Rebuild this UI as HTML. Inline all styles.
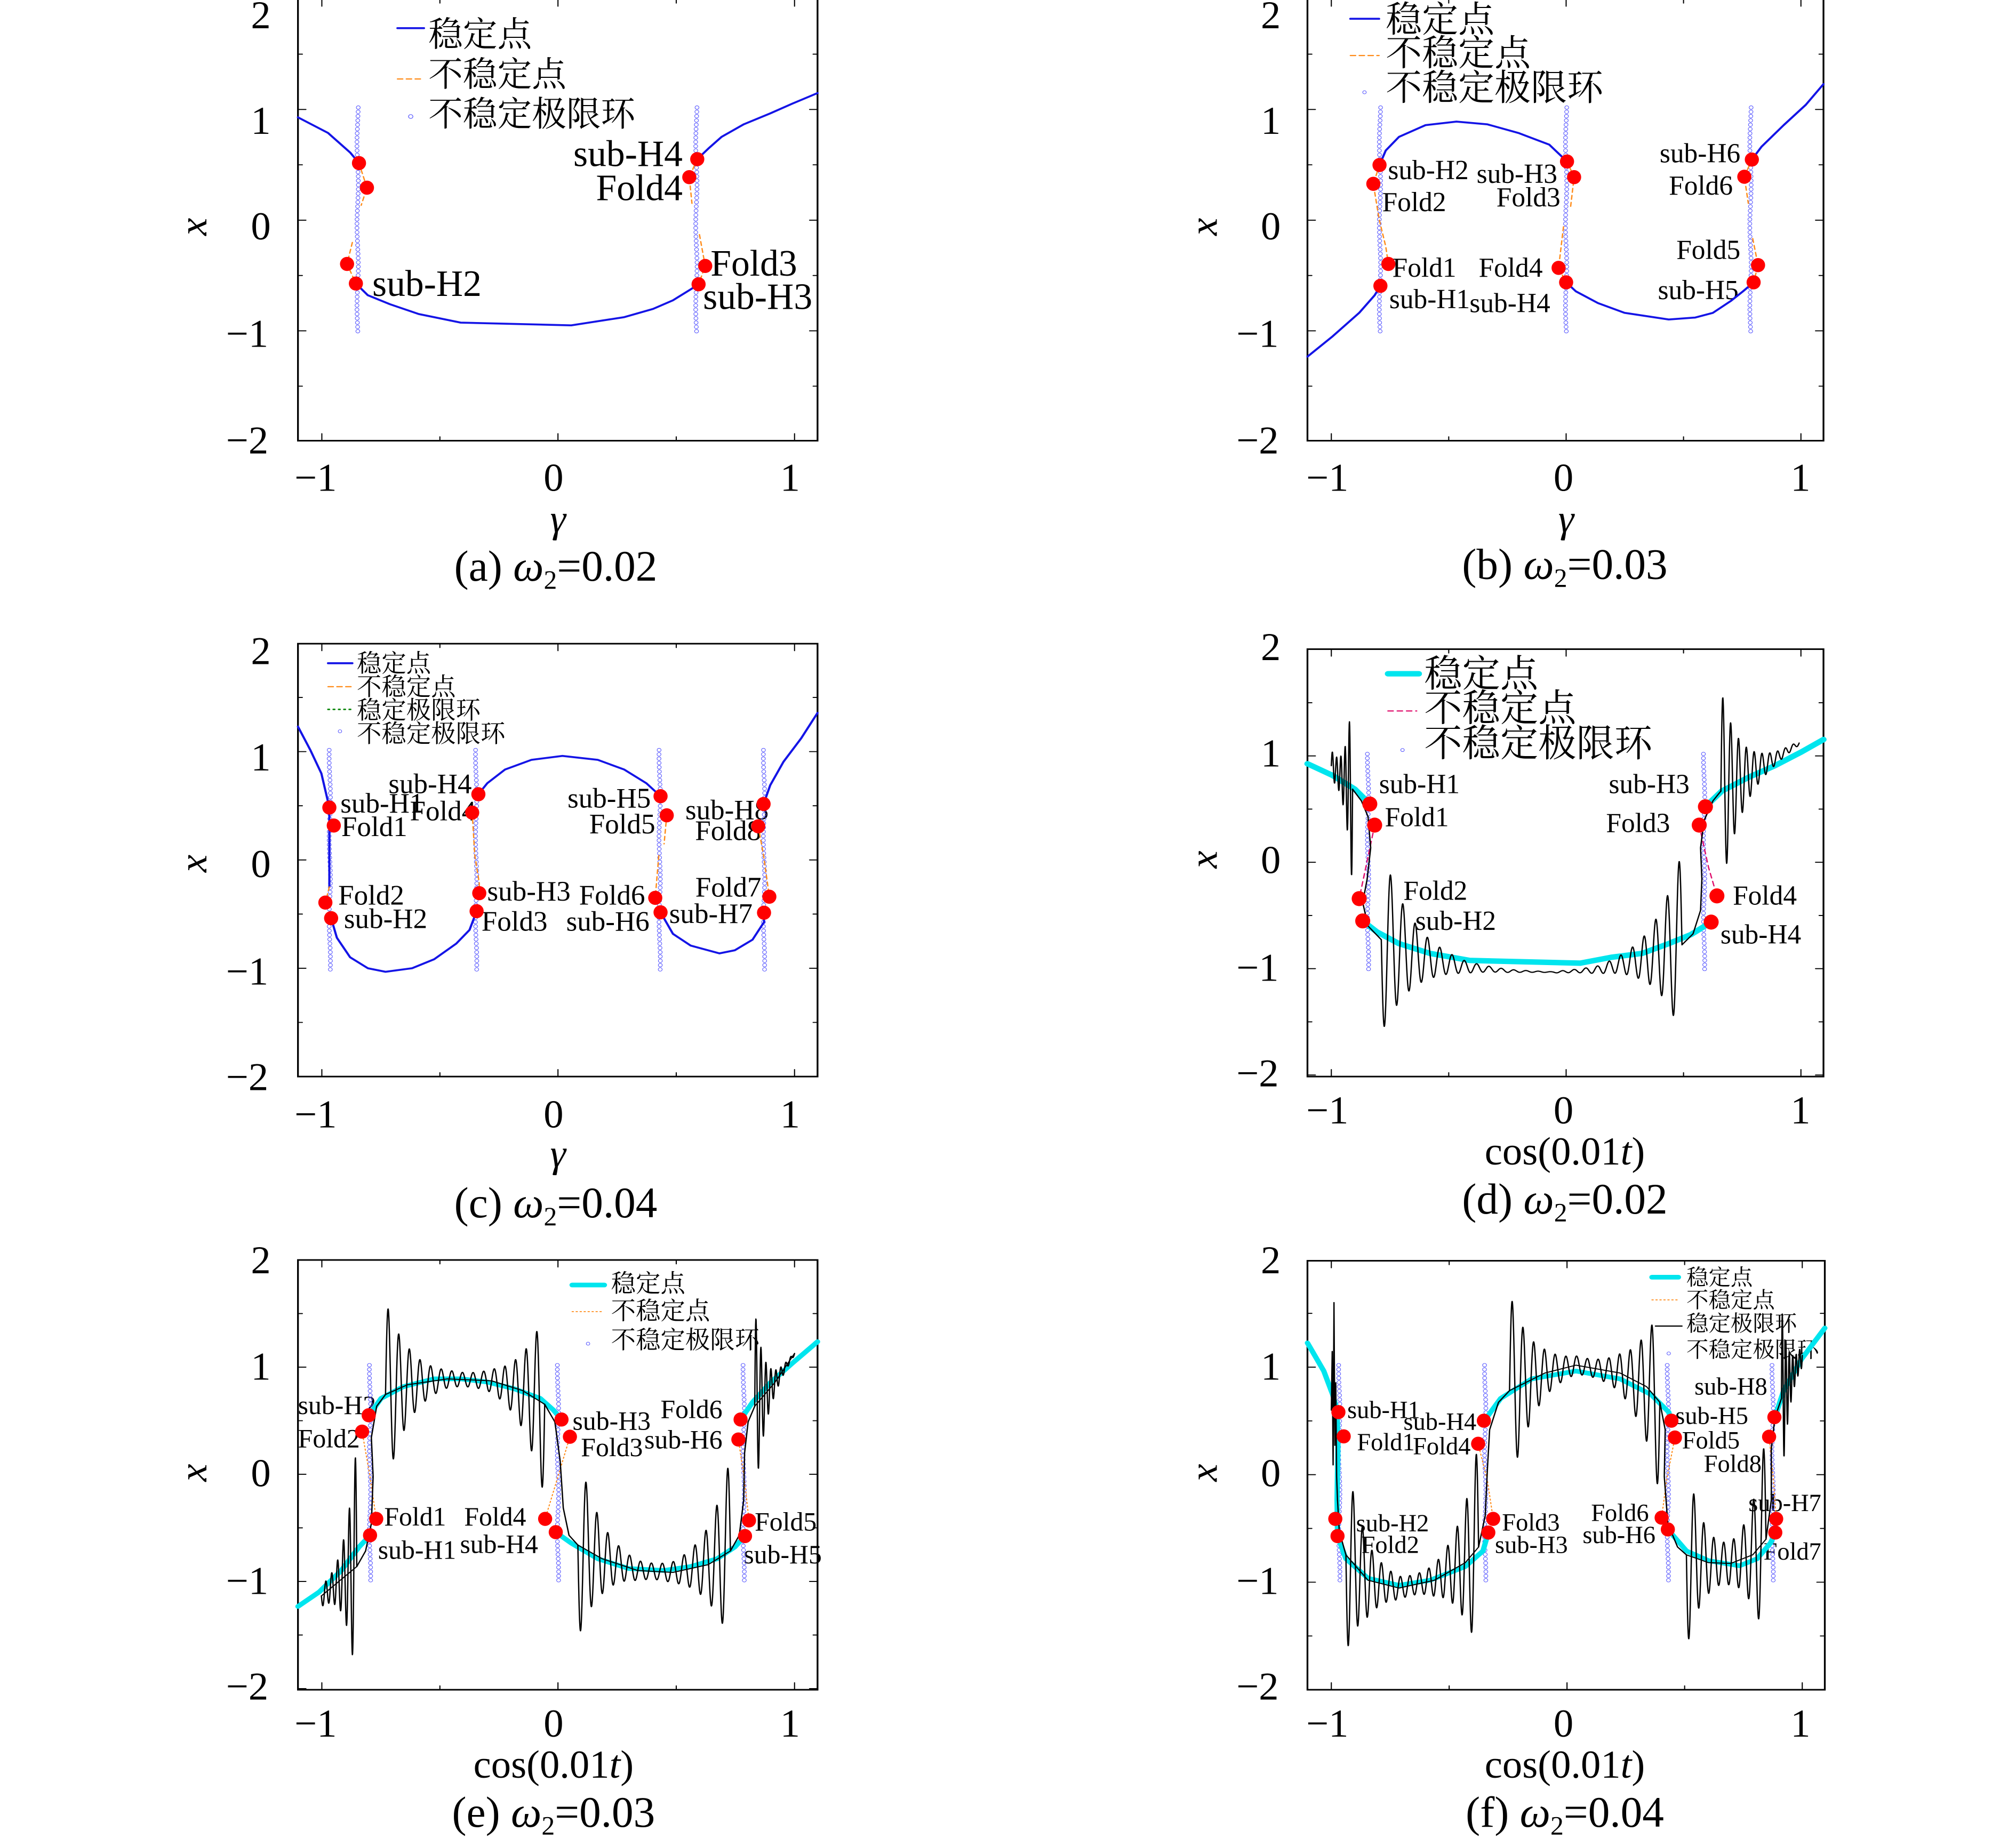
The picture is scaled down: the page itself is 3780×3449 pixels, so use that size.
<!DOCTYPE html>
<html><head><meta charset="utf-8">
<style>
html,body{margin:0;padding:0;background:#fff;}
svg{display:block;}
text{font-family:"Liberation Serif","Noto Serif CJK SC",serif;fill:#000;}
.e{text-anchor:end}.m{text-anchor:middle}
</style></head>
<body>
<svg id="s" xmlns="http://www.w3.org/2000/svg" width="3780" height="3449" viewBox="0 0 3780 3449">
<rect width="3780" height="3449" fill="#fff"/>

<!-- (a) -->
<g id="ga" transform="translate(300,0) scale(0.8291,0.7334)">
<g font-size="90">
<text class="m" transform="translate(228 72) scale(1 1.1305)">2</text>
<text class="m" transform="translate(228 342) scale(1 1.1305)">1</text>
<text class="m" transform="translate(228 612) scale(1 1.1305)">0</text>
<text class="e" transform="translate(245 887) scale(1 1.1305)">−1</text>
<text class="e" transform="translate(245 1160) scale(1 1.1305)">−2</text>
<text class="m" transform="translate(352 1255) scale(1 1.1305)">−1</text>
<text class="m" transform="translate(890 1255) scale(1 1.1305)">0</text>
<text class="m" transform="translate(1425 1255) scale(1 1.1305)">1</text>
<text class="m" font-style="italic" transform="translate(900 1360) scale(1 1.1305)">γ</text>
<text class="m" font-style="italic" transform="translate(105 580) scale(1 1.1305) rotate(-90)">x</text>
</g>
<text class="m" font-size="98" transform="translate(895 1485) scale(1 1.1305)">(a) <tspan font-style="italic">ω</tspan><tspan font-size="60" dy="18">2</tspan><tspan dy="-18">=0.02</tspan></text>
<g font-size="78">
<text transform="translate(607 118) scale(1 1.1305)">稳定点</text>
<text transform="translate(607 220) scale(1 1.1305)">不稳定点</text>
<text transform="translate(607 322) scale(1 1.1305)">不稳定极限环</text>
</g>
<g font-size="84">
<text class="e" transform="translate(1182 425) scale(1 1.1305)">sub-H4</text>
<text class="e" transform="translate(1182 512) scale(1 1.1305)">Fold4</text>
<text transform="translate(1245 705) scale(1 1.1305)">Fold3</text>
<text transform="translate(1228 790) scale(1 1.1305)">sub-H3</text>
<text transform="translate(480 757) scale(1 1.1305)">sub-H2</text>
</g>
</g>

<!-- (b) -->
<g id="gb" transform="translate(2250,0) scale(0.8291,0.7334)">
<g font-size="90">
<text class="m" transform="translate(160 72) scale(1 1.1305)">2</text>
<text class="m" transform="translate(160 342) scale(1 1.1305)">1</text>
<text class="m" transform="translate(160 612) scale(1 1.1305)">0</text>
<text class="e" transform="translate(178 887) scale(1 1.1305)">−1</text>
<text class="e" transform="translate(178 1160) scale(1 1.1305)">−2</text>
<text class="m" transform="translate(288 1255) scale(1 1.1305)">−1</text>
<text class="m" transform="translate(822 1255) scale(1 1.1305)">0</text>
<text class="m" transform="translate(1358 1255) scale(1 1.1305)">1</text>
<text class="m" font-style="italic" transform="translate(828 1360) scale(1 1.1305)">γ</text>
<text class="m" font-style="italic" transform="translate(38 580) scale(1 1.1305) rotate(-90)">x</text>
</g>
<text class="m" font-size="98" transform="translate(825 1480) scale(1 1.1305)">(b) <tspan font-style="italic">ω</tspan><tspan font-size="60" dy="18">2</tspan><tspan dy="-18">=0.03</tspan></text>
<g font-size="82">
<text transform="translate(420 82) scale(1 1.1305)">稳定点</text>
<text transform="translate(420 168) scale(1 1.1305)">不稳定点</text>
<text transform="translate(420 256) scale(1 1.1305)">不稳定极限环</text>
</g>
<g font-size="62">
<text transform="translate(425 458) scale(1 1.1305)">sub-H2</text>
<text transform="translate(412 540) scale(1 1.1305)">Fold2</text>
<text class="e" transform="translate(808 468) scale(1 1.1305)">sub-H3</text>
<text class="e" transform="translate(815 528) scale(1 1.1305)">Fold3</text>
<text transform="translate(435 708) scale(1 1.1305)">Fold1</text>
<text transform="translate(428 788) scale(1 1.1305)">sub-H1</text>
<text class="e" transform="translate(775 708) scale(1 1.1305)">Fold4</text>
<text class="e" transform="translate(792 798) scale(1 1.1305)">sub-H4</text>
<text class="e" transform="translate(1222 415) scale(1 1.1305)">sub-H6</text>
<text class="e" transform="translate(1205 498) scale(1 1.1305)">Fold6</text>
<text class="e" transform="translate(1222 662) scale(1 1.1305)">Fold5</text>
<text class="e" transform="translate(1218 765) scale(1 1.1305)">sub-H5</text>
</g>
</g>

<!-- (c) -->
<g id="gc" transform="translate(300,1150) scale(0.8291,0.7334)">
<g font-size="90">
<text class="m" transform="translate(228 130) scale(1 1.1305)">2</text>
<text class="m" transform="translate(228 402) scale(1 1.1305)">1</text>
<text class="m" transform="translate(228 675) scale(1 1.1305)">0</text>
<text class="e" transform="translate(245 950) scale(1 1.1305)">−1</text>
<text class="e" transform="translate(245 1220) scale(1 1.1305)">−2</text>
<text class="m" transform="translate(352 1315) scale(1 1.1305)">−1</text>
<text class="m" transform="translate(890 1315) scale(1 1.1305)">0</text>
<text class="m" transform="translate(1425 1315) scale(1 1.1305)">1</text>
<text class="m" font-style="italic" transform="translate(900 1415) scale(1 1.1305)">γ</text>
<text class="m" font-style="italic" transform="translate(105 640) scale(1 1.1305) rotate(-90)">x</text>
</g>
<text class="m" font-size="98" transform="translate(895 1545) scale(1 1.1305)">(c) <tspan font-style="italic">ω</tspan><tspan font-size="60" dy="18">2</tspan><tspan dy="-18">=0.04</tspan></text>
<g font-size="56">
<text transform="translate(445 150) scale(1 1.1305)">稳定点</text>
<text transform="translate(445 210) scale(1 1.1305)">不稳定点</text>
<text transform="translate(445 270) scale(1 1.1305)">稳定极限环</text>
<text transform="translate(445 330) scale(1 1.1305)">不稳定极限环</text>
</g>
<g font-size="64">
<text transform="translate(408 510) scale(1 1.1305)">sub-H1</text>
<text transform="translate(410 570) scale(1 1.1305)">Fold1</text>
<text transform="translate(403 745) scale(1 1.1305)">Fold2</text>
<text transform="translate(416 805) scale(1 1.1305)">sub-H2</text>
<text class="e" transform="translate(705 460) scale(1 1.1305)">sub-H4</text>
<text transform="translate(565 530) scale(1 1.1305)">Fold4</text>
<text transform="translate(740 735) scale(1 1.1305)">sub-H3</text>
<text transform="translate(727 812) scale(1 1.1305)">Fold3</text>
<text class="e" transform="translate(1110 497) scale(1 1.1305)">sub-H5</text>
<text class="e" transform="translate(1120 563) scale(1 1.1305)">Fold5</text>
<text transform="translate(1188 527) scale(1 1.1305)">sub-H8</text>
<text transform="translate(1210 580) scale(1 1.1305)">Fold8</text>
<text class="e" transform="translate(1097 745) scale(1 1.1305)">Fold6</text>
<text class="e" transform="translate(1107 812) scale(1 1.1305)">sub-H6</text>
<text class="e" transform="translate(1360 725) scale(1 1.1305)">Fold7</text>
<text class="e" transform="translate(1340 792) scale(1 1.1305)">sub-H7</text>
</g>
</g>

<!-- (d) -->
<g id="gd" transform="translate(2250,1150) scale(0.8291,0.7334)">
<g font-size="90">
<text class="m" transform="translate(160 120) scale(1 1.1305)">2</text>
<text class="m" transform="translate(160 392) scale(1 1.1305)">1</text>
<text class="m" transform="translate(160 665) scale(1 1.1305)">0</text>
<text class="e" transform="translate(178 940) scale(1 1.1305)">−1</text>
<text class="e" transform="translate(178 1210) scale(1 1.1305)">−2</text>
<text class="m" transform="translate(288 1305) scale(1 1.1305)">−1</text>
<text class="m" transform="translate(822 1305) scale(1 1.1305)">0</text>
<text class="m" transform="translate(1358 1305) scale(1 1.1305)">1</text>
<text class="m" transform="translate(825 1410) scale(1 1.1305)">cos(0.01<tspan font-style="italic">t</tspan>)</text>
<text class="m" font-style="italic" transform="translate(38 630) scale(1 1.1305) rotate(-90)">x</text>
</g>
<text class="m" font-size="98" transform="translate(825 1535) scale(1 1.1305)">(d) <tspan font-style="italic">ω</tspan><tspan font-size="60" dy="18">2</tspan><tspan dy="-18">=0.02</tspan></text>
<g font-size="86">
<text transform="translate(507 188) scale(1 1.1305)">稳定点</text>
<text transform="translate(507 276) scale(1 1.1305)">不稳定点</text>
<text transform="translate(507 366) scale(1 1.1305)">不稳定极限环</text>
</g>
<g font-size="62">
<text transform="translate(405 460) scale(1 1.1305)">sub-H1</text>
<text transform="translate(418 545) scale(1 1.1305)">Fold1</text>
<text transform="translate(460 733) scale(1 1.1305)">Fold2</text>
<text transform="translate(487 810) scale(1 1.1305)">sub-H2</text>
<text class="e" transform="translate(1107 460) scale(1 1.1305)">sub-H3</text>
<text class="e" transform="translate(1063 560) scale(1 1.1305)">Fold3</text>
<text transform="translate(1205 745) scale(1 1.1305)">Fold4</text>
<text transform="translate(1177 845) scale(1 1.1305)">sub-H4</text>
</g>
</g>

<!-- (e) -->
<g id="ge" transform="translate(300,2300) scale(0.8291,0.7334)">
<g font-size="90">
<text class="m" transform="translate(228 120) scale(1 1.1305)">2</text>
<text class="m" transform="translate(228 392) scale(1 1.1305)">1</text>
<text class="m" transform="translate(228 665) scale(1 1.1305)">0</text>
<text class="e" transform="translate(245 940) scale(1 1.1305)">−1</text>
<text class="e" transform="translate(245 1210) scale(1 1.1305)">−2</text>
<text class="m" transform="translate(352 1305) scale(1 1.1305)">−1</text>
<text class="m" transform="translate(890 1305) scale(1 1.1305)">0</text>
<text class="m" transform="translate(1425 1305) scale(1 1.1305)">1</text>
<text class="m" transform="translate(890 1410) scale(1 1.1305)">cos(0.01<tspan font-style="italic">t</tspan>)</text>
<text class="m" font-style="italic" transform="translate(105 630) scale(1 1.1305) rotate(-90)">x</text>
</g>
<text class="m" font-size="98" transform="translate(890 1535) scale(1 1.1305)">(e) <tspan font-style="italic">ω</tspan><tspan font-size="60" dy="18">2</tspan><tspan dy="-18">=0.03</tspan></text>
<g font-size="56">
<text transform="translate(1020 168) scale(1 1.1305)">稳定点</text>
<text transform="translate(1020 238) scale(1 1.1305)">不稳定点</text>
<text transform="translate(1020 312) scale(1 1.1305)">不稳定极限环</text>
</g>
<g font-size="60">
<text transform="translate(312 480) scale(1 1.1305)">sub-H2</text>
<text transform="translate(312 565) scale(1 1.1305)">Fold2</text>
<text transform="translate(507 765) scale(1 1.1305)">Fold1</text>
<text transform="translate(493 850) scale(1 1.1305)">sub-H1</text>
<text class="e" transform="translate(828 765) scale(1 1.1305)">Fold4</text>
<text class="e" transform="translate(855 835) scale(1 1.1305)">sub-H4</text>
<text transform="translate(933 520) scale(1 1.1305)">sub-H3</text>
<text transform="translate(952 588) scale(1 1.1305)">Fold3</text>
<text class="e" transform="translate(1272 490) scale(1 1.1305)">Fold6</text>
<text class="e" transform="translate(1272 568) scale(1 1.1305)">sub-H6</text>
<text transform="translate(1345 778) scale(1 1.1305)">Fold5</text>
<text transform="translate(1320 862) scale(1 1.1305)">sub-H5</text>
</g>
</g>

<!-- (f) -->
<g id="gf" transform="translate(2250,2300) scale(0.8291,0.7334)">
<g font-size="90">
<text class="m" transform="translate(160 120) scale(1 1.1305)">2</text>
<text class="m" transform="translate(160 392) scale(1 1.1305)">1</text>
<text class="m" transform="translate(160 665) scale(1 1.1305)">0</text>
<text class="e" transform="translate(178 940) scale(1 1.1305)">−1</text>
<text class="e" transform="translate(178 1210) scale(1 1.1305)">−2</text>
<text class="m" transform="translate(288 1305) scale(1 1.1305)">−1</text>
<text class="m" transform="translate(822 1305) scale(1 1.1305)">0</text>
<text class="m" transform="translate(1358 1305) scale(1 1.1305)">1</text>
<text class="m" transform="translate(825 1410) scale(1 1.1305)">cos(0.01<tspan font-style="italic">t</tspan>)</text>
<text class="m" font-style="italic" transform="translate(38 630) scale(1 1.1305) rotate(-90)">x</text>
</g>
<text class="m" font-size="98" transform="translate(825 1535) scale(1 1.1305)">(f) <tspan font-style="italic">ω</tspan><tspan font-size="60" dy="18">2</tspan><tspan dy="-18">=0.04</tspan></text>
<g font-size="50">
<text transform="translate(1100 150) scale(1 1.1305)">稳定点</text>
<text transform="translate(1100 208) scale(1 1.1305)">不稳定点</text>
<text transform="translate(1100 268) scale(1 1.1305)">稳定极限环</text>
<text transform="translate(1100 335) scale(1 1.1305)">不稳定极限环</text>
</g>
<g font-size="56">
<text transform="translate(333 490) scale(1 1.1305)">sub-H1</text>
<text transform="translate(355 573) scale(1 1.1305)">Fold1</text>
<text class="e" transform="translate(625 520) scale(1 1.1305)">sub-H4</text>
<text class="e" transform="translate(612 583) scale(1 1.1305)">Fold4</text>
<text transform="translate(353 780) scale(1 1.1305)">sub-H2</text>
<text transform="translate(365 835) scale(1 1.1305)">Fold2</text>
<text transform="translate(683 778) scale(1 1.1305)">Fold3</text>
<text transform="translate(667 835) scale(1 1.1305)">sub-H3</text>
<text transform="translate(1075 505) scale(1 1.1305)">sub-H5</text>
<text transform="translate(1090 568) scale(1 1.1305)">Fold5</text>
<text class="e" transform="translate(1283 430) scale(1 1.1305)">sub-H8</text>
<text class="e" transform="translate(1270 628) scale(1 1.1305)">Fold8</text>
<text class="e" transform="translate(1015 753) scale(1 1.1305)">Fold6</text>
<text class="e" transform="translate(1030 810) scale(1 1.1305)">sub-H6</text>
<text class="e" transform="translate(1405 728) scale(1 1.1305)">sub-H7</text>
<text class="e" transform="translate(1405 852) scale(1 1.1305)">Fold7</text>
</g>
</g>
</svg>

<script>
(function(){
var NS="http://www.w3.org/2000/svg";
function G(id){return document.getElementById(id);}
function el(p,tag,a){var e=document.createElementNS(NS,tag);for(var k in a)e.setAttribute(k,a[k]);p.appendChild(e);return e;}
function line(p,pts,stroke,w,dash){var a={points:pts.map(function(q){return q[0]+","+q[1];}).join(" "),fill:"none",stroke:stroke,"stroke-width":w,"stroke-linejoin":"round","stroke-linecap":"round"};if(dash)a["stroke-dasharray"]=dash;el(p,"polyline",a);}
function interp(b,x){for(var i=0;i<b.length-1;i++){if(x<=b[i+1][0]){var t=(x-b[i][0])/(b[i+1][0]-b[i][0]);return b[i][1]+t*(b[i+1][1]-b[i][1]);}}return b[b.length-1][1];}
function osc(p,b,x0,x1,aL,aR,L,per,sgn){var n=Math.max(1,Math.round((x1-x0)/per));per=(x1-x0)/n;var pts=[];for(var x=x0;x<=x1+0.01;x+=0.5){var a=aL*Math.exp(-(x-x0)/L)+aR*Math.exp((x-x1)/L);pts.push([x.toFixed(1),(interp(b,x)+(sgn||1)*a*Math.sin(2*Math.PI*(x-x0)/per)).toFixed(1)]);}line(p,pts,"#000",3);}
function col(p,x,y0,y1){for(var y=y0;y<=y1;y+=11){el(p,"circle",{cx:(x+1.5*Math.sin(y*0.03)).toFixed(1),cy:y,r:4.5,fill:"none",stroke:"#5050ff","stroke-width":1.3});}}
function dots(p,arr,r){arr.forEach(function(q){el(p,"ellipse",{cx:q[0],cy:q[1],rx:r||16,ry:(r||16)*1.13,fill:"#ff0000"});});}
function axes(p,L,R,T,B,xt,yt){
 el(p,"rect",{x:L,y:T,width:R-L,height:B-T,fill:"none",stroke:"#000","stroke-width":4});
 var xs=[[xt[0],1],[(xt[0]+xt[1])/2,0],[xt[1],1],[(xt[1]+xt[2])/2,0],[xt[2],1]];
 xs.forEach(function(q){var l=q[1]?18:10;line(p,[[q[0],B],[q[0],B-l]],"#000",2.5);line(p,[[q[0],T],[q[0],T+l]],"#000",2.5);});
 var step=(yt[1]-yt[0]);
 for(var k=-4;k<=4;k++){var y=yt[1]+k*step/2;if(y<T+3||y>B-3)continue;var l=(k%2===0)?18:10;line(p,[[L,y],[L+l,y]],"#000",2.5);line(p,[[R,y],[R-l,y]],"#000",2.5);}
}
var BL="#1414e6",OR="#ff8c1a",CY="#00e5ee",BW=5;

/* (a) */
var a=G("ga");
axes(a,312,1487,-2,1127,[366,900,1435],[280,563]);
col(a,447,275,850);col(a,1213,275,850);
line(a,[[312,300],[380,340],[430,390],[450,417]],BL,BW);
line(a,[[443,725],[470,755],[520,778],[585,803],[680,825],[930,832],[1050,811],[1115,790],[1160,768],[1200,740],[1218,727]],BL,BW);
line(a,[[1215,407],[1240,380],[1270,350],[1320,318],[1380,290],[1430,265],[1487,238]],BL,BW);
line(a,[[450,417],[468,480],[455,525]],OR,3,"10,8");line(a,[[435,620],[423,675],[443,725]],OR,3,"10,8");
line(a,[[1215,407],[1197,453],[1203,520]],OR,3,"10,8");line(a,[[1220,600],[1233,680],[1218,727]],OR,3,"10,8");
line(a,[[537,72],[597,72]],BL,BW);line(a,[[537,202],[597,202]],OR,3,"12,8");el(a,"circle",{cx:567,cy:298,r:5,fill:"none",stroke:"#5050ff","stroke-width":1.5});
dots(a,[[450,417],[468,480],[423,675],[443,725],[1215,407],[1197,453],[1233,680],[1218,727]]);

/* (b) */
var b=G("gb");
axes(b,243,1410,-2,1127,[297,828,1359],[280,563]);
col(b,407,275,850);col(b,828,275,850);col(b,1245,275,850);
line(b,[[243,912],[300,860],[360,800],[395,755],[408,731]],BL,BW);
line(b,[[406,422],[420,385],[450,350],[510,320],[580,311],[650,318],[720,340],[790,370],[830,413]],BL,BW);
line(b,[[828,722],[850,745],[900,775],[960,800],[1060,817],[1120,812],[1160,800],[1200,770],[1228,745],[1252,722]],BL,BW);
line(b,[[1248,408],[1270,375],[1320,320],[1370,268],[1410,215]],BL,BW);
line(b,[[406,422],[392,470],[405,560],[420,630],[426,675]],OR,3,"10,8");
line(b,[[830,413],[846,453],[838,530]],OR,3,"10,8");line(b,[[822,580],[811,685],[828,722]],OR,3,"10,8");
line(b,[[1248,408],[1231,452],[1240,520]],OR,3,"10,8");line(b,[[1250,610],[1262,678],[1252,722]],OR,3,"10,8");
line(b,[[340,48],[405,48]],BL,BW);line(b,[[340,142],[405,142]],OR,3,"12,8");el(b,"circle",{cx:372,cy:236,r:4,fill:"none",stroke:"#5050ff","stroke-width":1.3});
dots(b,[[406,422],[392,470],[426,675],[408,731],[830,413],[846,453],[811,685],[828,722],[1248,408],[1231,452],[1262,678],[1252,722]]);

/* (c) */
var c=G("gc");
axes(c,312,1487,78,1185,[366,900,1435],[354,631]);
col(c,384,350,912);col(c,715,350,912);col(c,1130,350,912);col(c,1366,350,912);
line(c,[[312,290],[340,350],[365,410],[383,497],[383,700]],BL,BW);
line(c,[[387,780],[400,830],[430,880],[470,908],[510,917],[570,908],[620,885],[670,845],[700,810],[716,762]],BL,BW);
line(c,[[720,463],[740,435],[780,400],[840,375],[910,365],[990,375],[1050,400],[1100,435],[1132,468]],BL,BW);
line(c,[[1132,765],[1160,820],[1200,850],[1265,870],[1300,862],[1340,835],[1366,790],[1366,766]],BL,BW);
line(c,[[1365,488],[1380,440],[1410,380],[1450,320],[1487,255]],BL,BW);
line(c,[[706,510],[712,620],[722,690],[722,716]],OR,3,"10,8");line(c,[[1146,517],[1140,590]],OR,3,"10,8");
line(c,[[1128,620],[1120,728]],OR,3,"10,8");line(c,[[1353,545],[1365,620],[1378,725]],OR,3,"10,8");
line(c,[[383,700],[374,740]],OR,3,"10,8");
line(c,[[380,128],[435,128]],BL,BW);line(c,[[380,188],[435,188]],OR,3,"12,8");line(c,[[380,246],[435,246]],"#138a13",4,"3,9");
el(c,"circle",{cx:407,cy:302,r:4,fill:"none",stroke:"#5050ff","stroke-width":1.3});
dots(c,[[383,497],[393,543],[374,740],[387,780],[720,463],[706,510],[722,716],[716,762],[1132,468],[1146,517],[1120,728],[1132,765],[1365,488],[1353,545],[1378,725],[1366,766]]);

/* (d) */
var d=G("gd");
axes(d,243,1410,92,1185,[297,828,1359],[365,637]);
col(d,380,360,915);col(d,1140,360,915);
line(d,[[243,385],[300,415],[350,450],[384,488]],CY,14);
line(d,[[368,787],[400,815],[450,845],[520,870],[610,888],[860,895],[930,880],[1000,870],[1060,845],[1110,822],[1156,790]],CY,14);
line(d,[[1143,495],[1180,455],[1240,420],[1300,390],[1360,355],[1410,323]],CY,14);
line(d,[[395,542],[375,650],[360,730]],"#e0106e",3,"12,9");line(d,[[1129,542],[1150,650],[1169,723]],"#e0106e",3,"12,9");
osc(d,[[297,390],[345,450]],297,345,30,260,15,9,-1);
line(d,[[345,450],[365,480],[380,520],[386,600],[378,680],[368,740],[380,800],[410,835]],"#000",3);
var dB1=[[410,835],[450,860],[520,885],[600,905],[700,915],[800,918]];
osc(d,dB1,410,800,240,0,70,27,1);
var dB2=[[800,918],[900,912],[1000,885],[1060,860],[1090,848]];
osc(d,dB2,800,1090,0,240,60,26,1);
line(d,[[1090,848],[1115,820],[1132,760],[1135,680],[1132,600],[1140,530],[1160,480],[1178,455]],"#000",3);
osc(d,[[1178,455],[1250,405],[1300,372],[1355,332]],1178,1355,260,0,45,18,-1);
line(d,[[425,155],[495,155]],CY,14);line(d,[[425,250],[490,250]],"#e0106e",3,"12,9");
el(d,"circle",{cx:458,cy:350,r:4,fill:"none",stroke:"#5050ff","stroke-width":1.3});
dots(d,[[384,488],[395,542],[360,730],[368,787],[1143,495],[1129,542],[1169,723],[1156,790]],17);

/* (e) */
var e=G("ge");
axes(e,312,1487,86,1185,[366,900,1435],[360,634]);
col(e,475,355,912);col(e,900,355,912);col(e,1320,355,912);
line(e,[[312,972],[360,935],[410,880],[450,820],[475,790]],CY,12);
line(e,[[473,483],[500,440],[550,410],[620,390],[680,390],[740,398],[800,415],[860,440],[890,470],[908,494]],CY,12);
line(e,[[895,782],[930,810],[990,850],[1060,875],[1140,880],[1200,870],[1260,850],[1300,820],[1323,792]],CY,12);
line(e,[[1313,494],[1340,450],[1380,400],[1430,350],[1487,295]],CY,12);
line(e,[[927,538],[900,640],[871,748]],OR,2.5,"3,6");line(e,[[1308,545],[1322,650],[1332,752]],OR,2.5,"3,6");
line(e,[[457,525],[475,640],[489,748]],OR,2.5,"3,6");
var eA=[[365,945],[400,915],[445,870]];
osc(e,eA,365,445,15,320,25,14,1);
line(e,[[445,870],[465,830],[478,760],[482,640],[478,540],[490,460],[510,430]],"#000",3);
var eB=[[510,430],[560,405],[650,390],[750,395],[820,420],[870,455]];
osc(e,eB,510,870,240,240,55,24,-1);
line(e,[[870,455],[893,500],[905,600],[912,720],[925,790],[945,815]],"#000",3);
var eC=[[945,815],[1000,850],[1080,880],[1160,885],[1240,865],[1290,830]];
osc(e,eC,945,1290,240,240,55,24,1);
line(e,[[1290,830],[1310,790],[1320,700],[1322,580],[1330,500],[1345,460]],"#000",3);
var eD=[[1345,460],[1390,400],[1435,325]];
osc(e,eD,1345,1435,250,0,22,11,-1);
line(e,[[365,945],[445,870]],"#000",2.6);line(e,eB,"#000",2.6);line(e,eC,"#000",2.6);line(e,eD,"#000",2.6);
line(e,[[932,150],[1005,150]],CY,12);line(e,[[932,218],[1000,218]],OR,2.5,"3,6");
el(e,"circle",{cx:968,cy:300,r:4,fill:"none",stroke:"#5050ff","stroke-width":1.3});
dots(e,[[472,483],[457,525],[489,748],[475,790],[908,494],[927,538],[871,748],[895,782],[1313,494],[1308,545],[1332,752],[1323,792]]);

/* (f) */
var f=G("gf");
axes(f,243,1413,88,1185,[297,830,1362],[360,635]);
col(f,315,355,912);col(f,645,355,912);col(f,1058,355,912);col(f,1295,355,912);
line(f,[[243,298],[280,370],[300,430],[310,470],[312,560],[310,700],[311,792]],CY,12);
line(f,[[311,792],[330,850],[380,900],[450,918],[520,905],[600,870],[640,830],[652,783]],CY,12);
line(f,[[643,497],[680,440],[750,390],[850,370],[950,390],[1020,430],[1060,475],[1066,497]],CY,12);
line(f,[[1058,775],[1100,830],[1150,855],[1220,868],[1260,850],[1290,810],[1302,783]],CY,12);
line(f,[[1300,488],[1320,420],[1360,340],[1413,260]],CY,12);
line(f,[[629,556],[650,650],[663,748]],OR,2.5,"3,6");line(f,[[1074,540],[1055,650],[1044,745]],OR,2.5,"3,6");
line(f,[[1287,538],[1297,650],[1303,748]],OR,2.5,"3,6");
line(f,[[297,470],[299,320],[301,610],[303,195],[305,560],[307,400],[309,640],[311,700]],"#000",3);
line(f,[[311,700],[315,780],[330,840]],"#000",3);
var fB=[[330,840],[380,905],[450,925],[530,905],[600,860],[630,820]];
osc(f,fB,330,630,250,270,50,22,1);
line(f,[[630,820],[645,740],[650,620],[655,520],[675,450],[700,420]],"#000",3);
var fC=[[700,420],[780,375],[850,355],[950,375],[1010,410],[1040,450]];
osc(f,fC,700,1040,250,240,55,24,-1);
line(f,[[1040,450],[1052,520],[1050,640],[1058,760],[1080,820],[1100,840]],"#000",3);
var fD=[[1100,840],[1150,860],[1200,862],[1250,840],[1280,800]];
osc(f,fD,1100,1280,240,270,40,22,1);
line(f,[[1280,800],[1292,700],[1292,570],[1300,490],[1315,440]],"#000",3);
var fE=[[1315,440],[1340,380],[1362,330]];
osc(f,fE,1315,1362,240,20,15,8,-1);
line(f,fB,"#000",2.6);line(f,fC,"#000",2.6);line(f,fD,"#000",2.6);
line(f,[[1022,130],[1082,130]],CY,12);line(f,[[1022,188],[1082,188]],OR,2.5,"3,6");line(f,[[1030,255],[1090,255]],"#000",3);
el(f,"circle",{cx:1060,cy:325,r:4,fill:"none",stroke:"#5050ff","stroke-width":1.3});
dots(f,[[313,475],[325,537],[306,748],[311,792],[642,497],[629,556],[663,748],[652,783],[1066,497],[1074,540],[1044,745],[1058,775],[1299,488],[1287,538],[1303,748],[1301,783]]);
})();
</script>
</body></html>
